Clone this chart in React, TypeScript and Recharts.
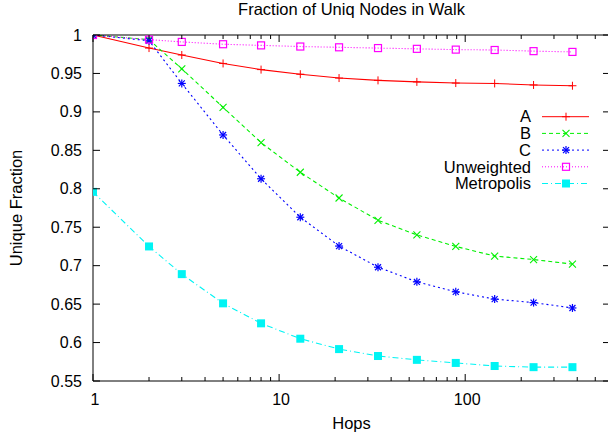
import { LineChart, Line, XAxis, YAxis, Legend, Label } from "recharts";

const hops = [1, 2, 3, 5, 8, 13, 21, 34, 55, 89, 144, 233, 377];
const seriesA = [1.0, 0.983, 0.974, 0.963, 0.955, 0.949, 0.944, 0.941, 0.939, 0.9375, 0.937, 0.935, 0.934];
const seriesB = [1.0, 0.994, 0.956, 0.906, 0.86, 0.8215, 0.788, 0.759, 0.74, 0.725, 0.7125, 0.708, 0.702];
const seriesC = [1.0, 0.9925, 0.937, 0.87, 0.813, 0.763, 0.7255, 0.698, 0.679, 0.666, 0.6565, 0.652, 0.645];
const unweighted = [1.0, 0.994, 0.991, 0.988, 0.9865, 0.985, 0.984, 0.983, 0.982, 0.981, 0.9805, 0.979, 0.978];
const metropolis = [0.796, 0.725, 0.689, 0.651, 0.625, 0.605, 0.5915, 0.5825, 0.5775, 0.5735, 0.5695, 0.568, 0.568];

const yTicks = [0.55, 0.6, 0.65, 0.7, 0.75, 0.8, 0.85, 0.9, 0.95, 1];
const xMajor = [1, 10, 100];
const xTicks = [1, 2, 3, 4, 5, 6, 7, 8, 9, 10, 20, 30, 40, 50, 60, 70, 80, 90, 100, 200, 300, 400, 500, 600];

const FONT = "'Liberation Sans', Arial, Helvetica, sans-serif";

type Shape = "plus" | "cross" | "star" | "box" | "fbox";

const series: { key: string; name: string; color: string; dash?: string; shape: Shape }[] = [
  { key: "a", name: "A", color: "#ff0000", shape: "plus" },
  { key: "b", name: "B", color: "#00f000", dash: "4 3", shape: "cross" },
  { key: "c", name: "C", color: "#0000ff", dash: "2 3", shape: "star" },
  { key: "u", name: "Unweighted", color: "#ff00ff", dash: "1 2", shape: "box" },
  { key: "m", name: "Metropolis", color: "#00f4f4", dash: "6 3 1 3", shape: "fbox" },
];

const data = hops.map((h, i) => ({
  hops: h,
  a: seriesA[i],
  b: seriesB[i],
  c: seriesC[i],
  u: unweighted[i],
  m: metropolis[i],
}));

const Marker = ({ cx, cy, shape, color }: { cx?: number; cy?: number; shape: Shape; color: string }) => {
  if (cx == null || cy == null) return <g />;
  const r = 4;
  const d = 3.5;
  if (shape === "plus") {
    return (
      <g stroke={color} strokeWidth={1}>
        <line x1={cx - r} y1={cy} x2={cx + r} y2={cy} />
        <line x1={cx} y1={cy - r} x2={cx} y2={cy + r} />
      </g>
    );
  }
  if (shape === "cross") {
    return (
      <g stroke={color} strokeWidth={1.1}>
        <line x1={cx - d} y1={cy - d} x2={cx + d} y2={cy + d} />
        <line x1={cx - d} y1={cy + d} x2={cx + d} y2={cy - d} />
      </g>
    );
  }
  if (shape === "star") {
    return (
      <g stroke={color} strokeWidth={1.2}>
        <line x1={cx - r} y1={cy} x2={cx + r} y2={cy} />
        <line x1={cx} y1={cy - r} x2={cx} y2={cy + r} />
        <line x1={cx - 3} y1={cy - 3} x2={cx + 3} y2={cy + 3} />
        <line x1={cx - 3} y1={cy + 3} x2={cx + 3} y2={cy - 3} />
      </g>
    );
  }
  if (shape === "box") {
    return <rect x={cx - 3.5} y={cy - 3.5} width={7} height={7} fill="none" stroke={color} strokeWidth={1.2} />;
  }
  return <rect x={cx - 4} y={cy - 4} width={8} height={8} fill={color} />;
};

const XTick = (props: any) => {
  const { x, y, payload, side } = props;
  const v = payload.value;
  const major = xMajor.includes(v);
  const len = major ? 7 : 4;
  const dir = side === "bottom" ? -1 : 1;
  return (
    <g>
      <line x1={x} x2={x} y1={y} y2={y + dir * len} stroke="#000" />
      {side === "bottom" && major && (
        <text x={x + 2} y={y + 18} textAnchor="middle" dy="0.35em" fontSize={16} fontFamily={FONT} fill="#000">
          {v}
        </text>
      )}
    </g>
  );
};

const YTick = (props: any) => {
  const { x, y, payload, side } = props;
  const dir = side === "left" ? 1 : -1;
  return (
    <g>
      <line x1={x} x2={x + dir * 7} y1={y} y2={y} stroke="#000" />
      {side === "left" && (
        <text x={x - 11} y={y} textAnchor="end" dy="0.35em" fontSize={16} fontFamily={FONT} fill="#000">
          {String(payload.value)}
        </text>
      )}
    </g>
  );
};

const LegendBox = () => (
  <svg width={228} height={100} style={{ position: "absolute", left: 380, top: 100, overflow: "visible" }}>
    {series.map((s, i) => {
      const y = 16.7 + i * 16.7;
      return (
        <g key={s.key}>
          <text x={151} y={y} textAnchor="end" dy="0.35em" fontSize={16.5} fontFamily={FONT} fill="#000">
            {s.name}
          </text>
          <line x1={162} x2={209} y1={y} y2={y} stroke={s.color} strokeWidth={1} strokeDasharray={s.dash} />
          <Marker cx={186} cy={y} shape={s.shape} color={s.color} />
        </g>
      );
    })}
  </svg>
);

export default function App() {
  return (
    <div style={{ position: "absolute", left: 0, top: 0, width: 608, height: 439, overflow: "hidden", background: "#fff" }}>
      <LineChart width={620} height={439} data={data} margin={{ top: 34, right: 9, bottom: 57, left: 92 }}>
        <XAxis
          dataKey="hops"
          type="number"
          scale="log"
          domain={[1, 600]}
          allowDataOverflow
          ticks={xTicks}
          interval={0}
          height={1}
          tickSize={0}
          tickMargin={0}
          tickLine={false}
          axisLine={{ stroke: "#000" }}
          tick={(p: any) => <XTick {...p} side="bottom" />}
        >
          <Label
            content={(p: any) => {
              const vb = p.viewBox;
              return (
                <text x={vb.x + vb.width / 2} y={vb.y + 36} dy="0.71em" textAnchor="middle" fontSize={16.5} fontFamily={FONT} fill="#000">
                  Hops
                </text>
              );
            }}
          />
        </XAxis>
        <XAxis
          xAxisId="top"
          orientation="top"
          dataKey="hops"
          type="number"
          scale="log"
          domain={[1, 600]}
          allowDataOverflow
          ticks={xTicks}
          interval={0}
          height={1}
          tickSize={0}
          tickMargin={0}
          tickLine={false}
          axisLine={{ stroke: "#000" }}
          tick={(p: any) => <XTick {...p} side="top" />}
        >
          <Label
            content={(p: any) => {
              const vb = p.viewBox;
              return (
                <text x={vb.x + vb.width / 2} y={15} textAnchor="middle" fontSize={16.5} fontFamily={FONT} fill="#000">
                  Fraction of Uniq Nodes in Walk
                </text>
              );
            }}
          />
        </XAxis>
        <YAxis
          type="number"
          domain={[0.55, 1]}
          allowDataOverflow
          ticks={yTicks}
          interval={0}
          width={1}
          tickSize={0}
          tickMargin={0}
          tickLine={false}
          axisLine={{ stroke: "#000" }}
          tick={(p: any) => <YTick {...p} side="left" />}
        >
          <Label
            content={(p: any) => {
              const vb = p.viewBox;
              const cy = vb.y + vb.height / 2;
              return (
                <text x={16} y={cy} dy="0.35em" textAnchor="middle" transform={`rotate(-90 16 ${cy})`} fontSize={16.5} fontFamily={FONT} fill="#000">
                  Unique Fraction
                </text>
              );
            }}
          />
        </YAxis>
        <YAxis
          yAxisId="right"
          orientation="right"
          type="number"
          domain={[0.55, 1]}
          allowDataOverflow
          ticks={yTicks}
          interval={0}
          width={1}
          tickSize={0}
          tickMargin={0}
          tickLine={false}
          axisLine={{ stroke: "#000" }}
          tick={(p: any) => <YTick {...p} side="right" />}
        />
        <Legend
          verticalAlign="top"
          align="left"
          wrapperStyle={{ position: "absolute", left: 0, top: 0, width: 0, height: 0 }}
          content={() => <LegendBox />}
        />
        {series.map((s) => (
          <Line
            key={s.key}
            dataKey={s.key}
            name={s.name}
            type="linear"
            stroke={s.color}
            strokeWidth={1.1}
            strokeDasharray={s.dash}
            isAnimationActive={false}
            dot={(p: any) => <Marker key={`${s.key}-${p.index}`} cx={p.cx} cy={p.cy} shape={s.shape} color={s.color} />}
            activeDot={false}
          />
        ))}
      </LineChart>
    </div>
  );
}
